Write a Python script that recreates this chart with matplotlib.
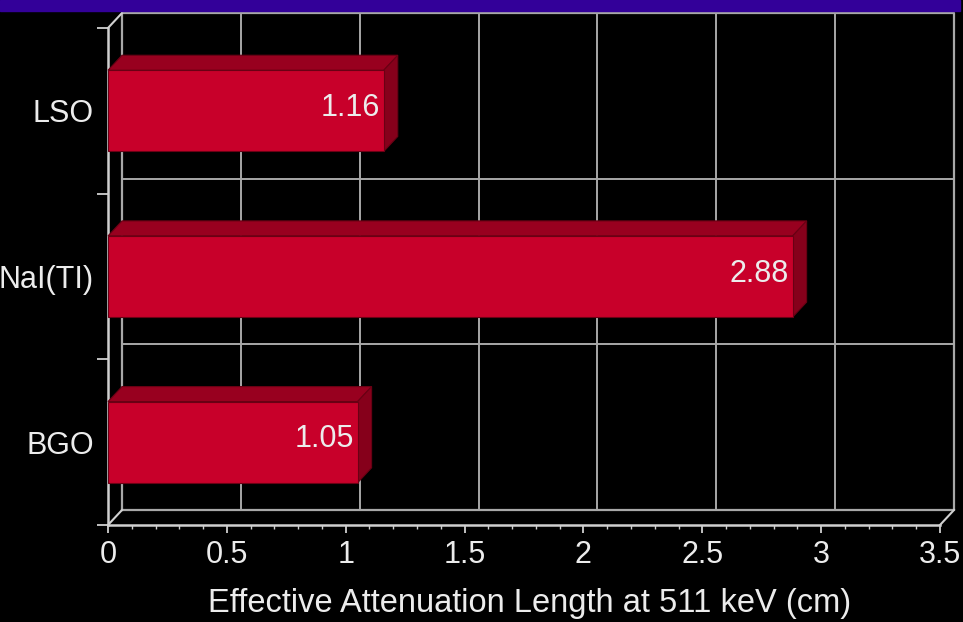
import matplotlib
matplotlib.use("Agg")
import matplotlib.pyplot as plt
from matplotlib.patches import Polygon, Rectangle
from matplotlib.ticker import FixedLocator

plt.rcParams["font.family"] = ["Liberation Sans", "DejaVu Sans"]

# Scintillator crystals, bottom to top
cristais = ["BGO", "NaI(TI)", "LSO"]
comprimento = [1.05, 2.88, 1.16]
rotulos = ["1.05", "2.88", "1.16"]

x_max = 3.5
x_ticks = [0, 0.5, 1, 1.5, 2, 2.5, 3, 3.5]
x_ticklabels = ["0", "0.5", "1", "1.5", "2", "2.5", "3", "3.5"]
titulo_x = "Effective Attenuation Length at 511 keV (cm)"

FUNDO = "#000000"
FRENTE = "#c8002a"
TOPO = "#98001f"
LADO = "#86001b"
BORDA = "#6a0014"
GRADE = "#a8a8a8"
EIXO = "#d0d0d0"
TEXTO = "#ececec"

fig = plt.figure(figsize=(9.63, 6.22), dpi=100, facecolor=FUNDO)
ax = fig.add_axes([108 / 963, 97 / 622, 832 / 963, 497 / 622])
ax.set_facecolor(FUNDO)
ax.set_xlim(0, x_max)
ax.set_ylim(-0.5, len(cristais) - 0.5)

# purple strip across the top of the slide
fig.patches.append(Rectangle((0, 611 / 622), 960 / 963, 11 / 622,
                             transform=fig.transFigure, color="#330099",
                             zorder=0))

# depth of the pseudo-3D box, in data units (about 14 px right, 15 px up)
px_x = ax.transData.transform((1, 0))[0] - ax.transData.transform((0, 0))[0]
px_y = ax.transData.transform((0, 1))[1] - ax.transData.transform((0, 0))[1]
dx = 14 / px_x
dy = 15 / px_y

y0, y1 = -0.5, len(cristais) - 0.5

# back wall grid
for xv in x_ticks[1:-1]:
    ax.plot([xv + dx, xv + dx], [y0 + dy, y1 + dy], color=GRADE, lw=1.4,
            clip_on=False, zorder=1)
for yv in [0.5, 1.5]:
    ax.plot([dx, x_max + dx], [yv + dy, yv + dy], color=GRADE, lw=1.4,
            clip_on=False, zorder=1)
# back wall border
ax.plot([dx, dx, x_max + dx, x_max + dx, dx],
        [y0 + dy, y1 + dy, y1 + dy, y0 + dy, y0 + dy],
        color=GRADE, lw=1.6, clip_on=False, zorder=1)

# front edges and the connecting diagonals
ax.plot([0, 0], [y0, y1], color=EIXO, lw=1.8, clip_on=False, zorder=2)
ax.plot([0, x_max], [y0, y0], color=EIXO, lw=1.8, clip_on=False, zorder=2)
for (xa, ya) in [(0, y0), (0, y1), (x_max, y0)]:
    ax.plot([xa, xa + dx], [ya, ya + dy], color=EIXO, lw=1.5,
            clip_on=False, zorder=2)

# bars
altura = 0.49
ax.barh(range(len(cristais)), comprimento, height=altura, left=0,
        color=FRENTE, edgecolor=BORDA, linewidth=0.8, zorder=4)
for i, v in enumerate(comprimento):
    topo = i + altura / 2
    base = i - altura / 2
    ax.add_patch(Polygon([(0, topo), (v, topo), (v + dx, topo + dy),
                          (dx, topo + dy)], closed=True, facecolor=TOPO,
                         edgecolor=BORDA, lw=0.8, zorder=3, clip_on=False))
    ax.add_patch(Polygon([(v, base), (v + dx, base + dy), (v + dx, topo + dy),
                          (v, topo)], closed=True, facecolor=LADO,
                         edgecolor=BORDA, lw=0.8, zorder=3, clip_on=False))
    ax.annotate(rotulos[i], xy=(v, i), xytext=(-4, 3),
                textcoords="offset pixels", ha="right", va="center",
                color=TEXTO, fontsize=22, zorder=5)

for lado in ax.spines.values():
    lado.set_visible(False)

ax.set_xticks(x_ticks)
ax.set_xticklabels(x_ticklabels)
ax.set_xticks([t / 10 for t in range(36) if t % 5], minor=True)
ax.tick_params(axis="x", which="major", length=6, width=1.3, color=EIXO,
               labelcolor=TEXTO, labelsize=22, pad=5)
ax.tick_params(axis="x", which="minor", length=3, width=1.0, color=EIXO)

ax.set_yticks(range(len(cristais)))
ax.set_yticklabels(cristais)
ax.yaxis.set_minor_locator(FixedLocator([-0.5, 0.5, 1.5, 2.5]))
ax.tick_params(axis="y", which="major", length=0, pad=10,
               labelcolor=TEXTO, labelsize=22)
ax.tick_params(axis="y", which="minor", length=8, width=1.3, color=EIXO)

ax.set_xlabel(titulo_x, color=TEXTO, fontsize=23.5, labelpad=13)
ax.xaxis.label.set_x(0.507)

fig.savefig("out.png", dpi=100, facecolor=FUNDO)
